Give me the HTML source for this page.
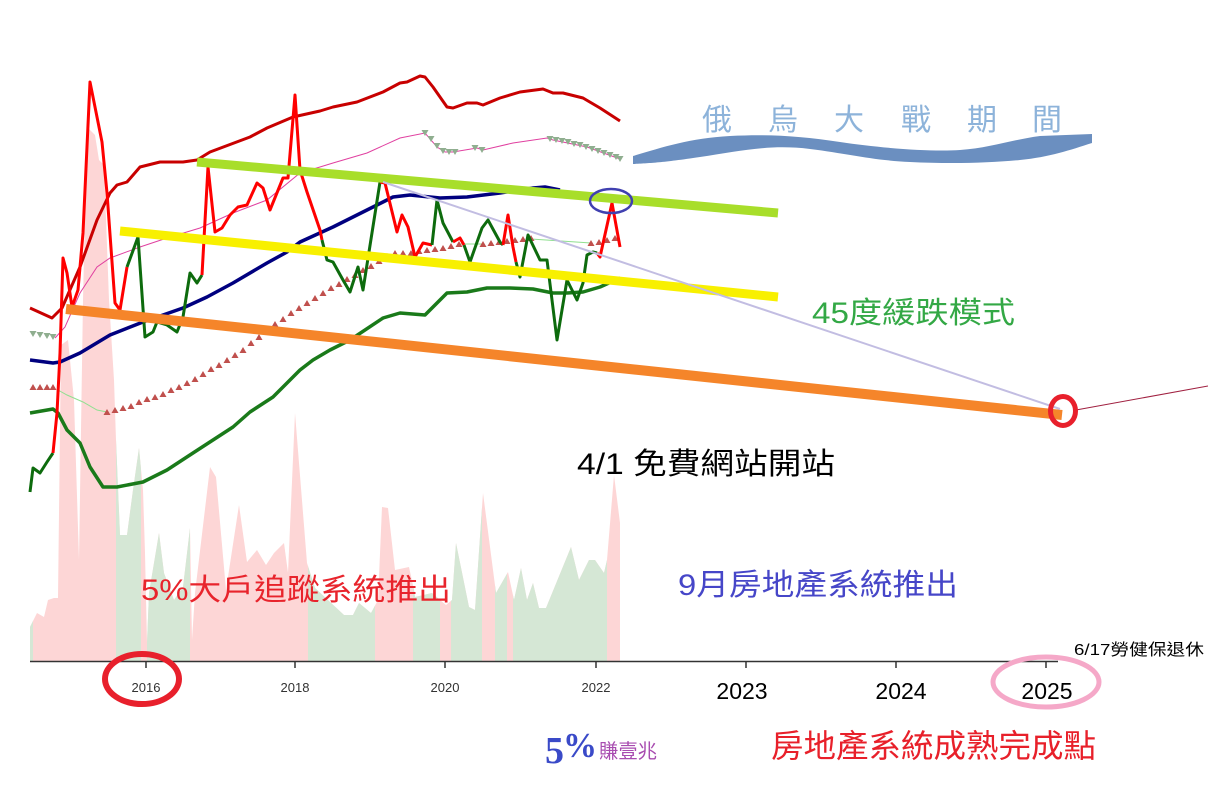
<!DOCTYPE html>
<html>
<head>
<meta charset="utf-8">
<style>
html,body{margin:0;padding:0;background:#fff;}
svg{display:block;}
.cjk{font-family:"Liberation Sans","Noto Sans CJK TC",sans-serif;}
</style>
</head>
<body>
<svg width="1208" height="788" viewBox="0 0 1208 788" xmlns="http://www.w3.org/2000/svg">
<defs>
  <marker id="up" markerUnits="userSpaceOnUse" markerWidth="7" markerHeight="6" refX="3.5" refY="3" orient="0" viewBox="0 0 7 6">
    <path d="M0,6 L3.5,0 L7,6 Z" fill="#c0504d"/>
  </marker>
  <marker id="dn" markerUnits="userSpaceOnUse" markerWidth="7" markerHeight="6" refX="3.5" refY="3" orient="0" viewBox="0 0 7 6">
    <path d="M0,0 L7,0 L3.5,6 Z" fill="#8fae8f"/>
  </marker>
  <clipPath id="gclip">
    <rect x="30" y="0" width="3" height="700"/>
    <rect x="116" y="0" width="25" height="700"/>
    <rect x="147" y="0" width="43" height="700"/>
    <rect x="308" y="0" width="67" height="700"/>
    <rect x="413" y="0" width="27" height="700"/>
    <rect x="451" y="0" width="31" height="700"/>
    <rect x="495" y="0" width="12" height="700"/>
    <rect x="513" y="0" width="94" height="700"/>
  </clipPath>
</defs>

<!-- volume area -->
<polygon fill="#fdd6d6" points="30,661 30,627 37,613 44,617 48,600 54,598 58,598 61,345 68,340 74,400 79,560 83,300 87,127 95,135 99,160 104,165 109,300 114,380 116,440 120,535 127,535 133,490 139,448 143,490 145,553 147,643 149,593 159,533 164,573 174,600 183,587 190,528 192,640 195,593 210,467 216,477 226,590 239,505 247,562 257,550 266,565 274,553 284,543 288,573 295,413 307,563 315,588 344,615 353,615 359,603 371,613 378,600 382,507 388,508 395,570 409,567 414,590 415,597 432,593 440,600 446,605 452,600 456,543 469,607 475,610 483,493 496,593 508,572 514,600 521,568 527,600 533,583 539,608 546,608 571,547 579,580 589,560 595,560 604,573 607,560 614,475 620,523 620,661"/>
<polygon fill="#d5e7d5" clip-path="url(#gclip)" points="30,661 30,627 37,613 44,617 48,600 54,598 58,598 61,345 68,340 74,400 79,560 83,300 87,127 95,135 99,160 104,165 109,300 114,380 116,440 120,535 127,535 133,490 139,448 143,490 145,553 147,643 149,593 159,533 164,573 174,600 183,587 190,528 192,640 195,593 210,467 216,477 226,590 239,505 247,562 257,550 266,565 274,553 284,543 288,573 295,413 307,563 315,588 344,615 353,615 359,603 371,613 378,600 382,507 388,508 395,570 409,567 414,590 415,597 432,593 440,600 446,605 452,600 456,543 469,607 475,610 483,493 496,593 508,572 514,600 521,568 527,600 533,583 539,608 546,608 571,547 579,580 589,560 595,560 604,573 607,560 614,475 620,523 620,661"/>

<!-- axis -->
<line x1="30" y1="661.5" x2="1058" y2="661.5" stroke="#333" stroke-width="1.5"/>
<g stroke="#333" stroke-width="1.5">
  <line x1="146" y1="661" x2="146" y2="668"/>
  <line x1="295" y1="661" x2="295" y2="668"/>
  <line x1="445" y1="661" x2="445" y2="668"/>
  <line x1="596" y1="661" x2="596" y2="668"/>
  <line x1="746" y1="661" x2="746" y2="668"/>
  <line x1="896" y1="661" x2="896" y2="668"/>
  <line x1="1046" y1="661" x2="1046" y2="668"/>
</g>
<g font-family="Liberation Sans, sans-serif" font-size="13" fill="#333" text-anchor="middle">
  <text x="146" y="692">2016</text>
  <text x="295" y="692">2018</text>
  <text x="445" y="692">2020</text>
  <text x="596" y="692">2022</text>
</g>
<g font-family="Liberation Sans, sans-serif" font-size="23" fill="#000" text-anchor="middle">
  <text x="742" y="699">2023</text>
  <text x="901" y="699">2024</text>
  <text x="1047" y="699">2025</text>
</g>

<!-- upper band dark red -->
<polyline fill="none" stroke="#c80000" stroke-width="3" stroke-linejoin="round" points="30,308 52,318 62,308 80,267 97,220 110,193 117,185 127,182 140,167 160,162 183,162 197,160 210,152 250,137 267,128 293,117 320,111 333,107 357,102 383,92 400,83 407,82 420,76 425,77 433,87 447,107 453,108 467,103 477,103 483,105 500,98 520,92 543,89 553,93 563,93 583,98 600,108 620,121"/>

<!-- middle pink line -->
<polyline fill="none" stroke="#e040a0" stroke-width="1" points="55,338 65,327 80,293 97,267 110,258 140,247 167,238 200,228 233,213 267,200 300,173 320,167 333,163 367,153 400,138 425,133 437,147 445,152 453,152 477,148 483,150 513,143 547,138 553,140 587,147 620,159"/>
<polyline fill="none" stroke="none" marker-start="url(#dn)" marker-mid="url(#dn)" marker-end="url(#dn)" points="33,334 40,335 47,336 53,337"/>
<polyline fill="none" stroke="none" marker-start="url(#dn)" marker-mid="url(#dn)" marker-end="url(#dn)" points="425,133 431,139 437,146 443,151 449,152 455,152"/>
<polyline fill="none" stroke="none" marker-start="url(#dn)" marker-mid="url(#dn)" marker-end="url(#dn)" points="475,148 482,150"/>
<polyline fill="none" stroke="none" marker-start="url(#dn)" marker-mid="url(#dn)" marker-end="url(#dn)" points="550,139 556,140 562,141 568,142 574,144 580,145 586,147 592,149 598,151 604,153 610,155 616,157 620,159"/>

<!-- navy MA -->
<polyline fill="none" stroke="#00007f" stroke-width="3.5" stroke-linejoin="round" points="30,360 53,363 60,362 80,353 110,335 143,322 183,308 207,297 233,283 267,263 287,252 300,242 333,227 367,210 393,197 410,195 440,198 467,197 500,193 533,188 545,187 560,190"/>

<!-- lower green band -->
<polyline fill="none" stroke="#1a7a1a" stroke-width="3.5" stroke-linejoin="round" points="30,413 53,409 58,413 67,430 80,443 90,467 103,487 117,487 143,482 167,470 193,453 213,440 233,427 250,412 273,397 300,370 313,360 330,350 350,340 383,318 400,313 425,315 447,293 467,292 487,288 510,288 533,289 553,293 567,293 583,292 600,287 620,278"/>

<!-- SAR thin line + triangles -->
<polyline fill="none" stroke="#90e090" stroke-width="1" points="58,390 67,395 83,402 97,410 107,412"/>
<polyline fill="none" stroke="#90e090" stroke-width="1" points="459,244 483,244"/>
<polyline fill="none" stroke="#90e090" stroke-width="1" points="531,239 591,243"/>
<polyline fill="none" stroke="none" marker-start="url(#up)" marker-mid="url(#up)" marker-end="url(#up)" points="33,387 40,387 47,387 53,387"/>
<polyline fill="none" stroke="none" marker-start="url(#up)" marker-mid="url(#up)" marker-end="url(#up)" points="107,412 115,410 123,408 131,406 139,402 147,399 155,397 163,394 171,390 179,387 187,383 195,379 203,374 211,369 219,365 227,360 235,355 243,350 251,343 259,337 267,330 275,324 283,319 291,313 299,308 307,303 315,298 323,293 331,288 339,284 347,279 355,275 363,270 371,266 379,261 387,256 395,253 403,253 411,253 419,251 427,250 435,249 443,248 451,246 459,244"/>
<polyline fill="none" stroke="none" marker-start="url(#up)" marker-mid="url(#up)" marker-end="url(#up)" points="483,244 491,243 499,242 507,241 515,240 523,239 531,238"/>
<polyline fill="none" stroke="none" marker-start="url(#up)" marker-mid="url(#up)" marker-end="url(#up)" points="591,243 599,242 607,240 615,238"/>

<!-- price line -->
<g fill="none" stroke-width="3" stroke-linejoin="round">
  <polyline stroke="#0d6b0d" points="30,492 33,468 40,473 47,462 53,453"/>
  <polyline stroke="#ff0000" points="53,453 57,413 60,353 63,258 67,273 72,307 78,290 83,233 90,82 102,142 107,193 115,303 120,310 127,267"/>
  <polyline stroke="#0d6b0d" points="127,267 138,237 145,337 153,332 157,322 167,325 177,332 183,317 190,273 197,283 202,275"/>
  <polyline stroke="#ff0000" points="202,275 208,167 215,232 222,228 230,215 238,207 247,205 257,183 263,188 270,210 283,178 288,178 295,95 300,170 307,192 320,230 322,240"/>
  <polyline stroke="#0d6b0d" points="322,240 327,260 333,262 343,280 350,292 358,267 363,290 380,182"/>
  <polyline stroke="#ff0000" points="380,182 385,183 397,232 402,215 408,227 415,257 423,243 432,245"/>
  <polyline stroke="#0d6b0d" points="432,245 437,200 443,223 453,242"/>
  <polyline stroke="#ff0000" points="453,242 460,238 464,245"/>
  <polyline stroke="#0d6b0d" points="464,245 470,262 482,228 488,220 500,242 503,245"/>
  <polyline stroke="#ff0000" points="503,245 508,215 513,247 516,262"/>
  <polyline stroke="#0d6b0d" points="516,262 520,277 528,235 540,260 547,260 557,340 567,280 577,300 583,283 587,255 593,252 597,253"/>
  <polyline stroke="#ff0000" points="597,253 600,257 612,203 620,247"/>
</g>

<!-- trend lines -->
<line x1="120" y1="231" x2="778" y2="297" stroke="#f8f000" stroke-width="9"/>
<line x1="197" y1="162" x2="778" y2="213" stroke="#a8de2a" stroke-width="9"/>
<line x1="66" y1="309" x2="1062" y2="415" stroke="#f5852a" stroke-width="10"/>
<line x1="383" y1="182" x2="1060" y2="409" stroke="#c2bde2" stroke-width="2"/>
<line x1="1076" y1="410" x2="1208" y2="386" stroke="#a02040" stroke-width="1"/>
<ellipse cx="1063" cy="411" rx="12.5" ry="14.5" fill="none" stroke="#e8202c" stroke-width="5"/>
<ellipse cx="611" cy="201" rx="21" ry="12" fill="none" stroke="#4040b0" stroke-width="2.5"/>

<!-- banner -->
<path d="M633,164 L633,156 C660,148 690,138 730,136 S800,136 840,142 S930,152 960,150 S1010,140 1040,136 L1092,134 L1092,143 C1070,150 1050,157 1020,160 S950,164 910,162 S850,154 810,149 S740,151 700,157 S650,163 633,164 Z" fill="#6b8fc0"/>
<g class="cjk" font-size="30" fill="#8db3da" text-anchor="middle">
  <text x="717" y="130">俄</text>
  <text x="783" y="130">烏</text>
  <text x="849" y="130">大</text>
  <text x="916" y="130">戰</text>
  <text x="982" y="130">期</text>
  <text x="1047" y="130">間</text>
</g>

<!-- annotations -->
<text class="cjk" x="812" y="323" font-size="30" fill="#33a845" textLength="203" lengthAdjust="spacingAndGlyphs">45度緩跌模式</text>
<text class="cjk" x="577" y="474" font-size="30" fill="#000" textLength="258" lengthAdjust="spacingAndGlyphs">4/1 免費網站開站</text>
<text class="cjk" x="141" y="600" font-size="30" fill="#e8242c" textLength="310" lengthAdjust="spacingAndGlyphs">5%大戶追蹤系統推出</text>
<text class="cjk" x="678" y="595" font-size="30" fill="#4646c8" textLength="280" lengthAdjust="spacingAndGlyphs">9月房地產系統推出</text>
<text class="cjk" x="1074" y="655" font-size="16" fill="#000" textLength="130" lengthAdjust="spacingAndGlyphs">6/17勞健保退休</text>
<text class="cjk" x="771" y="757" font-size="32" fill="#e8202a" textLength="325" lengthAdjust="spacingAndGlyphs">房地產系統成熟完成點</text>

<text x="545" y="763" font-family="Liberation Serif, serif" font-weight="bold" font-size="38" fill="#3a4ac8">5</text>
<text x="563" y="757" font-family="Liberation Serif, serif" font-weight="bold" font-size="35" fill="#3a4ac8" textLength="34" lengthAdjust="spacingAndGlyphs">%</text>
<text class="cjk" x="599" y="758" font-size="20" fill="#a84cb0" textLength="58" lengthAdjust="spacingAndGlyphs">賺壹兆</text>

<!-- ellipses on axis -->
<ellipse cx="142" cy="679" rx="37" ry="25" fill="none" stroke="#e8202c" stroke-width="6"/>
<ellipse cx="1046" cy="682" rx="53" ry="25" fill="none" stroke="#f5a8c8" stroke-width="5"/>
</svg>
</body>
</html>
